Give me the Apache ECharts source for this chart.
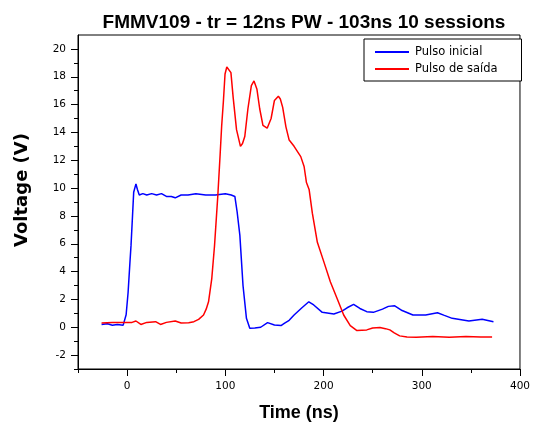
<!DOCTYPE html>
<html>
<head>
<meta charset="utf-8">
<script src="https://cdn.jsdelivr.net/npm/echarts@6/dist/echarts.min.js"></script>
<style>
html,body{margin:0;padding:0;background:#fff;}
#chart{width:533px;height:427px;}
</style>
</head>
<body>
<div id="chart"></div>
<script>
var titleText = 'FMMV109 - tr = 12ns PW - 103ns 10 sessions';
var seriesNames = ['Pulso inicial', 'Pulso de saída'];
var xTickLabels = [0, 100, 200, 300, 400];
var xMinorTicks = [-50, 50, 150, 250, 350];
var yTickLabels = [-2, 0, 2, 4, 6, 8, 10, 12, 14, 16, 18, 20];
var yMinorTicks = [-3, -1, 1, 3, 5, 7, 9, 11, 13, 15, 17, 19];

var blueTime = [-26,-20,-15,-10,-4,-1,1,3,4,5.5,6.7,9,10.5,12.4,16,20,25,30,35,40,45,49,55,62,70,80,90,100,106,109.7,112,114.8,118,121.5,124.9,130,136,143,150,156.7,160,165,170,178,185,190,198.7,210.5,218.8,224,230.6,237,244,250.7,260,266,272.5,280,291,304,316,323,331,348,361.5,373];
var blueVoltage = [0.2,0.25,0.15,0.2,0.15,0.9,2.5,4.8,5.9,8.0,9.7,10.3,9.9,9.5,9.6,9.5,9.6,9.5,9.6,9.4,9.4,9.3,9.5,9.5,9.6,9.5,9.5,9.6,9.5,9.4,8.3,6.6,3.0,0.64,-0.07,-0.05,0.0,0.33,0.16,0.12,0.28,0.5,0.88,1.4,1.83,1.6,1.07,0.95,1.16,1.4,1.64,1.35,1.12,1.07,1.3,1.5,1.54,1.2,0.88,0.88,1.04,0.85,0.64,0.45,0.57,0.4];

var redTime = [-26,-15,-4,5,9,14,20,29,34,40,49,55,62.7,68,72.8,77.8,80.5,82.9,86.2,89,92.3,94.7,96.3,98,99.7,101.5,103,105.7,108,111.4,115.4,117.5,119.8,123,126.5,129.2,132.2,135,138.3,142.6,146.6,150,154,156,158.4,161.7,165,170,176.8,180.2,182.6,185.3,188.6,193.7,200.4,207,213.8,220.5,227.2,234,244,250,257.4,263,267.5,272,277.5,285,294.4,311.2,328,345,360,371.6];
var redVoltage = [0.3,0.35,0.35,0.35,0.45,0.2,0.35,0.4,0.2,0.35,0.45,0.3,0.33,0.4,0.57,0.88,1.3,1.83,3.5,5.86,9.4,12.4,14.5,16.2,18.2,18.7,18.74,18.3,16.5,14.2,13.0,13.2,13.7,15.7,17.37,17.7,17.1,15.7,14.5,14.3,15.0,16.3,16.6,16.4,15.8,14.4,13.45,13.0,12.26,11.55,10.4,9.9,8.2,6.1,4.68,3.25,2.06,0.88,0.12,-0.24,-0.19,-0.05,-0.02,-0.1,-0.19,-0.4,-0.62,-0.7,-0.71,-0.66,-0.71,-0.66,-0.7,-0.7];

function pairs(xs, ys) { return xs.map(function (x, i) { return [x, ys[i]]; }); }

var chart = echarts.init(document.getElementById('chart'), null, {renderer: 'canvas'});
var lbl = {fontFamily: 'DejaVu Sans', fontSize: 10.5, color: '#000'};
chart.setOption({
  backgroundColor: '#fff',
  animation: false,
  title: {
    text: titleText, left: 299, top: 8, textAlign: 'center',
    textStyle: {fontFamily: 'Liberation Sans, Arial', fontWeight: 'bold', fontSize: 19, color: '#000'}
  },
  legend: {
    orient: 'vertical', left: 364, top: 39,
    borderColor: '#000', borderWidth: 1, backgroundColor: '#fff',
    padding: [7, 24, 6, 10], itemWidth: 34, itemHeight: 14, itemGap: 5,
    itemStyle: {opacity: 0},
    textStyle: {fontFamily: 'DejaVu Sans', fontSize: 11.5, color: '#000', padding: [0, 0, 0, 1]},
    data: seriesNames
  },
  grid: {left: 78, right: 8, top: 35, bottom: 55, show: true, borderColor: '#000', borderWidth: 1, backgroundColor: 'transparent'},
  xAxis: [{
    type: 'value', min: -50, max: 400, position: 'bottom',
    axisLine: {show: true, onZero: false, lineStyle: {color: '#000', width: 1}},
    axisTick: {show: true, length: 7, customValues: xTickLabels, lineStyle: {color: '#000'}},
    axisLabel: Object.assign({customValues: xTickLabels, margin: 12}, lbl),
    splitLine: {show: false},
    name: 'Time (ns)', nameLocation: 'middle', nameGap: 35,
    nameTextStyle: {fontFamily: 'Liberation Sans, Arial', fontWeight: 'bold', fontSize: 18, color: '#000'}
  }, {
    type: 'value', min: -50, max: 400, position: 'bottom',
    axisLine: {show: false, onZero: false},
    axisTick: {show: true, length: 4, customValues: xMinorTicks, lineStyle: {color: '#000'}},
    axisLabel: {show: false},
    splitLine: {show: false}
  }],
  yAxis: [{
    type: 'value', min: -3, max: 21, position: 'left',
    axisLine: {show: true, onZero: false, lineStyle: {color: '#000', width: 1}},
    axisTick: {show: true, length: 7, customValues: yTickLabels, lineStyle: {color: '#000'}},
    axisLabel: Object.assign({customValues: yTickLabels, margin: 12}, lbl),
    splitLine: {show: false},
    name: 'Voltage (V)', nameLocation: 'middle', nameGap: 47, nameRotate: 90,
    nameTextStyle: {fontFamily: 'DejaVu Sans', fontWeight: 'bold', fontSize: 18, color: '#000', padding: [0, 0, 0, 24]}
  }, {
    type: 'value', min: -3, max: 21, position: 'left',
    axisLine: {show: false, onZero: false},
    axisTick: {show: true, length: 4, customValues: yMinorTicks, lineStyle: {color: '#000'}},
    axisLabel: {show: false},
    splitLine: {show: false}
  }],
  series: [{
    name: seriesNames[0], type: 'line', xAxisIndex: 0, yAxisIndex: 0,
    symbol: 'none', data: pairs(blueTime, blueVoltage),
    lineStyle: {color: '#0000ff', width: 1.5}, itemStyle: {color: '#0000ff'}
  }, {
    name: seriesNames[1], type: 'line', xAxisIndex: 0, yAxisIndex: 0,
    symbol: 'none', data: pairs(redTime, redVoltage),
    lineStyle: {color: '#ff0000', width: 1.5}, itemStyle: {color: '#ff0000'}
  }]
});
</script>
</body>
</html>
